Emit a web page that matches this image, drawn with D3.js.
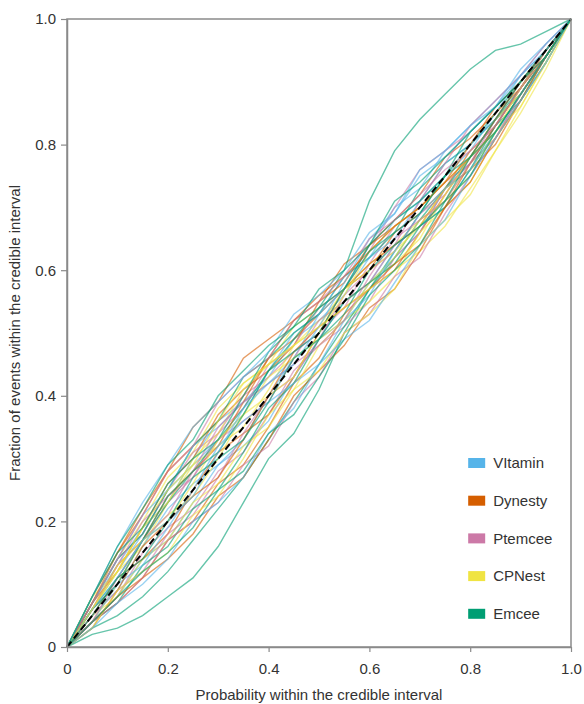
<!DOCTYPE html>
<html>
<head>
<meta charset="utf-8">
<script src="https://cdnjs.cloudflare.com/ajax/libs/d3/7.8.5/d3.min.js"></script>
<style>
  body { margin: 0; background: #fff; }
  text { font-family: "Liberation Sans", Arial, sans-serif; }
</style>
</head>
<body>
<svg id="pp"></svg>
<script>
// probability grid (x) shared by every run
var probGrid = [0, .05, .1, .15, .2, .25, .3, .35, .4, .45, .5, .55, .6, .65, .7, .75, .8, .85, .9, .95, 1];

// fraction of events within the credible interval, one array per run
var vitaminRuns = [
  [0,.07,.13,.19,.23,.30,.36,.39,.43,.49,.52,.56,.62,.68,.71,.75,.79,.85,.91,.96,1],
  [0,.04,.08,.14,.17,.23,.29,.32,.36,.43,.49,.55,.58,.62,.66,.73,.77,.83,.89,.94,1],
  [0,.06,.12,.18,.25,.29,.33,.37,.44,.50,.53,.57,.64,.70,.73,.79,.83,.87,.91,.95,1],
  [0,.05,.09,.16,.22,.26,.29,.33,.40,.46,.49,.52,.58,.64,.67,.70,.76,.82,.88,.94,1],
  [0,.07,.14,.21,.25,.32,.35,.39,.42,.46,.53,.59,.62,.65,.71,.77,.80,.84,.88,.94,1],
  [0,.04,.10,.13,.19,.25,.32,.36,.39,.42,.45,.52,.56,.63,.69,.73,.76,.82,.87,.93,1],
  [0,.06,.11,.17,.20,.24,.31,.38,.42,.45,.51,.58,.65,.69,.76,.79,.83,.86,.92,.96,1],
  [0,.08,.16,.23,.29,.35,.39,.43,.47,.53,.56,.60,.66,.69,.75,.78,.82,.86,.91,.95,1],
  [0,.03,.07,.10,.14,.20,.23,.27,.34,.38,.45,.49,.52,.58,.64,.68,.75,.81,.87,.93,1]
];
var dynestyRuns = [
  [0,.08,.15,.21,.28,.32,.36,.40,.46,.49,.53,.57,.60,.66,.69,.73,.79,.83,.89,.95,1],
  [0,.04,.07,.11,.17,.20,.26,.29,.35,.42,.46,.53,.57,.60,.66,.72,.78,.82,.88,.94,1],
  [0,.07,.12,.19,.26,.30,.37,.41,.44,.48,.55,.61,.64,.68,.72,.78,.81,.85,.89,.95,1],
  [0,.05,.11,.14,.18,.25,.31,.34,.37,.43,.50,.57,.61,.64,.67,.73,.76,.80,.87,.93,1],
  [0,.06,.13,.17,.24,.28,.32,.39,.46,.52,.55,.58,.64,.67,.70,.74,.80,.86,.90,.94,1],
  [0,.03,.09,.16,.20,.24,.27,.33,.40,.47,.51,.54,.57,.61,.64,.70,.77,.83,.89,.94,1],
  [0,.07,.15,.22,.28,.35,.39,.46,.49,.52,.56,.59,.63,.67,.70,.74,.78,.84,.90,.95,1],
  [0,.04,.08,.11,.14,.18,.24,.27,.33,.40,.44,.48,.54,.57,.63,.70,.74,.81,.87,.94,1]
];
var ptemceeRuns = [
  [0,.06,.10,.17,.23,.27,.34,.40,.43,.47,.50,.54,.61,.67,.70,.74,.77,.83,.89,.95,1],
  [0,.04,.08,.15,.19,.22,.28,.31,.37,.44,.48,.51,.55,.62,.66,.73,.77,.81,.88,.94,1],
  [0,.07,.14,.18,.25,.31,.34,.38,.45,.48,.54,.57,.63,.70,.76,.79,.82,.86,.90,.95,1],
  [0,.05,.09,.12,.18,.21,.27,.34,.40,.43,.49,.56,.60,.63,.69,.72,.78,.84,.88,.94,1],
  [0,.06,.13,.20,.24,.27,.33,.36,.39,.46,.52,.55,.58,.64,.71,.77,.83,.87,.91,.96,1],
  [0,.04,.11,.17,.21,.28,.35,.39,.42,.45,.48,.52,.59,.65,.68,.71,.77,.84,.90,.95,1],
  [0,.07,.14,.21,.28,.32,.39,.43,.46,.52,.55,.59,.65,.68,.72,.76,.79,.83,.89,.95,1],
  [0,.04,.07,.11,.17,.20,.23,.29,.32,.39,.43,.50,.53,.59,.62,.69,.75,.81,.88,.94,1]
];
var cpnestRuns = [
  [0,.07,.14,.20,.27,.31,.38,.42,.45,.51,.54,.57,.61,.64,.68,.71,.77,.81,.87,.93,1],
  [0,.05,.08,.14,.17,.23,.26,.32,.35,.41,.48,.52,.55,.59,.66,.70,.74,.81,.87,.93,1],
  [0,.06,.12,.16,.23,.29,.32,.35,.41,.48,.52,.55,.58,.62,.68,.71,.75,.82,.88,.94,1],
  [0,.08,.12,.19,.23,.30,.34,.41,.45,.48,.51,.57,.60,.63,.67,.73,.76,.82,.86,.93,1],
  [0,.04,.10,.17,.21,.24,.30,.37,.43,.46,.49,.52,.58,.61,.65,.72,.78,.84,.88,.94,1],
  [0,.06,.13,.17,.20,.26,.33,.37,.40,.43,.50,.56,.63,.67,.70,.74,.78,.82,.89,.95,1],
  [0,.06,.12,.19,.25,.29,.36,.42,.45,.48,.51,.54,.57,.60,.63,.67,.73,.79,.85,.92,1],
  [0,.03,.09,.12,.15,.21,.24,.30,.37,.41,.44,.50,.53,.57,.64,.68,.72,.79,.86,.93,1]
];
var emceeRuns = [
  [0,.02,.03,.05,.08,.11,.16,.23,.30,.34,.41,.50,.57,.63,.69,.75,.80,.85,.90,.95,1],
  [0,.03,.05,.08,.12,.17,.22,.27,.33,.39,.45,.51,.57,.62,.68,.73,.78,.84,.89,.95,1],
  [0,.06,.11,.17,.23,.28,.33,.38,.44,.49,.54,.60,.71,.79,.84,.88,.92,.95,.96,.98,1],
  [0,.07,.14,.18,.25,.32,.36,.43,.46,.50,.53,.59,.62,.66,.73,.77,.80,.84,.88,.94,1],
  [0,.04,.07,.13,.16,.22,.25,.31,.38,.42,.49,.55,.58,.61,.67,.70,.76,.83,.87,.94,1],
  [0,.06,.10,.17,.24,.28,.31,.37,.44,.47,.50,.57,.64,.68,.71,.75,.82,.86,.90,.95,1],
  [0,.08,.15,.19,.26,.30,.33,.40,.47,.51,.54,.57,.63,.66,.69,.75,.78,.82,.88,.94,1],
  [0,.05,.11,.14,.20,.27,.30,.33,.39,.46,.49,.53,.60,.64,.67,.71,.78,.84,.90,.94,1],
  [0,.08,.16,.22,.29,.33,.40,.44,.48,.51,.57,.60,.64,.71,.74,.78,.82,.86,.90,.95,1],
  [0,.04,.08,.12,.15,.19,.25,.28,.34,.37,.43,.49,.56,.60,.64,.71,.75,.82,.88,.94,1]
];

var samplers = ["VItamin", "Dynesty", "Ptemcee", "CPNest", "Emcee"];
var samplerColours = ["#56B4E9", "#D55E00", "#CC79A7", "#F0E442", "#009E73"];
var samplerRuns = [vitaminRuns, dynestyRuns, ptemceeRuns, cpnestRuns, emceeRuns];
var tickValues = [0, 0.2, 0.4, 0.6, 0.8, 1.0];

var margin = {top: 19, right: 13, bottom: 57, left: 67},
    width = 584 - margin.left - margin.right,
    height = 704 - margin.top - margin.bottom;

var x = d3.scaleLinear().domain([0, 1]).range([0, width]);
var y = d3.scaleLinear().domain([0, 1]).range([height, 0]);
var colour = d3.scaleOrdinal().domain(samplers).range(samplerColours);

var svg = d3.select("#pp")
    .attr("width", 584)
    .attr("height", 704)
    .append("g")
    .attr("transform", "translate(" + margin.left + "," + margin.top + ")");

// interleave runs so no sampler sits entirely on top
var runs = [];
var maxRuns = d3.max(samplerRuns, function(r) { return r.length; });
for (var i = 0; i < maxRuns; i++) {
  samplers.forEach(function(s, k) {
    if (samplerRuns[k][i]) runs.push({sampler: s, values: samplerRuns[k][i]});
  });
}

var line = d3.line()
    .x(function(d, i) { return x(probGrid[i]); })
    .y(function(d) { return y(d); });

svg.selectAll(".run")
    .data(runs)
    .enter()
    .append("path")
    .attr("class", "run")
    .attr("d", function(d) { return line(d.values); })
    .attr("fill", "none")
    .attr("stroke", function(d) { return colour(d.sampler); })
    .attr("stroke-width", 1.4)
    .attr("stroke-opacity", 0.6);

// diagonal reference
svg.append("line")
    .attr("x1", x(0)).attr("y1", y(0))
    .attr("x2", x(1)).attr("y2", y(1))
    .attr("stroke", "#000")
    .attr("stroke-width", 2)
    .attr("stroke-dasharray", "7,4");

var fmt = function(d) { return d === 0 ? "0" : d.toFixed(1); };

// frame
svg.append("rect")
    .attr("width", width)
    .attr("height", height)
    .attr("fill", "none")
    .attr("stroke", "#8a8a8a")
    .attr("stroke-width", 1.5);

var xAxis = svg.append("g")
    .attr("transform", "translate(0," + height + ")")
    .call(d3.axisBottom(x).tickValues(tickValues).tickFormat(fmt).tickSize(5).tickPadding(11).tickSizeOuter(0));

var yAxis = svg.append("g")
    .call(d3.axisLeft(y).tickValues(tickValues).tickFormat(fmt).tickSize(6).tickPadding(5).tickSizeOuter(0));

[xAxis, yAxis].forEach(function(a) {
  a.select(".domain").attr("stroke", "#8a8a8a").attr("stroke-width", 1.5);
  a.selectAll(".tick line").attr("stroke", "#8a8a8a").attr("stroke-width", 1.2);
  a.selectAll(".tick text")
      .attr("fill", "#333")
      .style("font-size", "15px")
      .style("font-family", "'Liberation Sans', Arial, sans-serif");
});

// axis titles
svg.append("text")
    .attr("x", width / 2)
    .attr("y", height + 53)
    .attr("text-anchor", "middle")
    .attr("fill", "#333")
    .style("font-size", "15px")
    .text("Probability within the credible interval");

svg.append("text")
    .attr("transform", "rotate(-90)")
    .attr("x", -height / 2)
    .attr("y", -47)
    .attr("text-anchor", "middle")
    .attr("fill", "#333")
    .style("font-size", "15px")
    .text("Fraction of events within the credible interval");

// legend
var legend = svg.selectAll(".legend")
    .data(samplers)
    .enter()
    .append("g")
    .attr("class", "legend")
    .attr("transform", function(d, i) {
      return "translate(" + (x(0.796)) + "," + (y(0.293) + i * 37.7) + ")";
    });

legend.append("rect")
    .attr("x", 0)
    .attr("y", -5)
    .attr("width", 17)
    .attr("height", 10)
    .attr("fill", function(d) { return colour(d); });

legend.append("text")
    .attr("x", 25)
    .attr("y", 0)
    .attr("dy", "0.35em")
    .attr("fill", "#333")
    .style("font-size", "15px")
    .text(function(d) { return d; });
</script>
</body>
</html>
